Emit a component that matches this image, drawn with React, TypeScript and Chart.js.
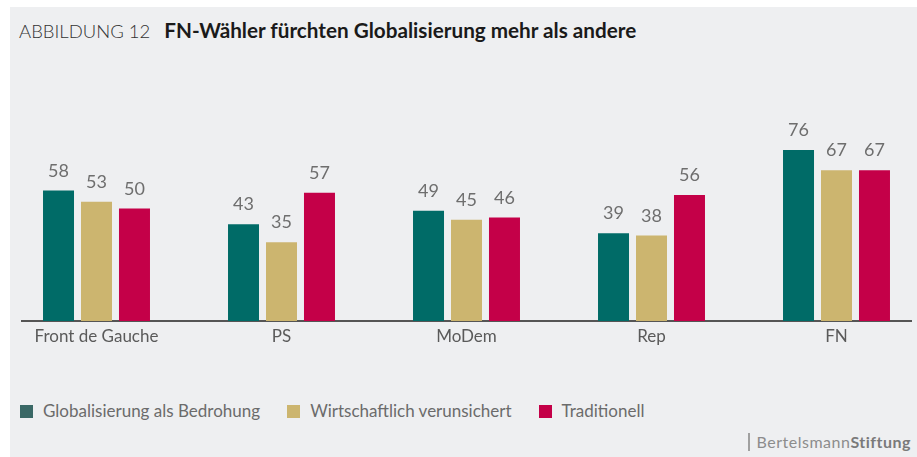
import React, { useEffect, useRef } from "react";
import { Chart, registerables } from "chart.js";

Chart.register(...registerables);

const categories = ["Front de Gauche", "PS", "MoDem", "Rep", "FN"];
const seriesNames = ["Globalisierung als Bedrohung", "Wirtschaftlich verunsichert", "Traditionell"];
const globalisierung = [58, 43, 49, 39, 76];
const wirtschaftlich = [53, 35, 45, 38, 67];
const traditionell = [50, 57, 46, 56, 67];
const seriesColors = ["#006b67", "#ccb56f", "#c40048"];
const legendColors = ["#3a6866", "#ccb56f", "#c40048"];

const valueLabels = {
  id: "valueLabels",
  afterDatasetsDraw(chart: any) {
    const ctx = chart.ctx;
    ctx.save();
    ctx.font = "18px Lato";
    ctx.fillStyle = "#6e6e6e";
    ctx.textAlign = "center";
    ctx.textBaseline = "alphabetic";
    chart.data.datasets.forEach((ds: any, di: number) => {
      const meta = chart.getDatasetMeta(di);
      meta.data.forEach((el: any, i: number) => {
        ctx.fillText(String(ds.data[i].y), el.x, el.y - 14);
      });
    });
    ctx.restore();
  },
};

export default function App() {
  const ref = useRef<HTMLCanvasElement | null>(null);
  useEffect(() => {
    if (!ref.current) return;
    const all = [globalisierung, wirtschaftlich, traditionell];
    const chart = new Chart(ref.current, {
      type: "bar",
      data: {
        datasets: all.map((vals, k) => ({
          label: seriesNames[k],
          data: vals.map((v, i) => ({ x: i, y: v })),
          backgroundColor: seriesColors[k],
          borderWidth: 0,
          categoryPercentage: 0.616,
          barPercentage: 0.816,
        })),
      },
      options: {
        animation: false,
        responsive: true,
        maintainAspectRatio: false,
        layout: { padding: { top: 29, left: 12, right: 6, bottom: 0 } },
        plugins: { legend: { display: false }, tooltip: { enabled: false } },
        scales: {
          x: {
            type: "linear",
            offset: false,
            min: -0.4027,
            max: 4.4027,
            afterFit: (scale: any) => {
              scale.height = 30;
            },
            grid: { display: false, drawTicks: false, offset: false },
            border: { display: true, color: "#555555", width: 2 },
            ticks: {
              stepSize: 1,
              includeBounds: false,
              autoSkip: false,
              maxRotation: 0,
              padding: 5,
              color: "#5a5a5a",
              font: { family: "Lato", size: 17 },
              callback: (v: any) => (Number.isInteger(v) ? categories[v] : null),
            },
          },
          y: { display: false, min: 0, max: 100 },
        },
      },
      plugins: [valueLabels],
    } as any);
    return () => chart.destroy();
  }, []);

  return (
    <div
      style={{
        position: "fixed",
        left: 10,
        top: 7,
        width: 907,
        height: 450,
        background: "#eeeff1",
        fontFamily: "Lato, sans-serif",
        overflow: "hidden",
      }}
    >
      <div style={{ position: "absolute", left: 9, top: 11, whiteSpace: "nowrap", lineHeight: "24px" }}>
        <span style={{ fontWeight: 300, fontSize: 18.5, color: "#333" }}>ABBILDUNG 12</span>
        <span style={{ fontWeight: 700, fontSize: 20.7, color: "#1a1a1a", marginLeft: 14 }}>
          FN-Wähler fürchten Globalisierung mehr als andere
        </span>
      </div>
      <div style={{ position: "absolute", left: 0, top: 60, width: 907, height: 284 }}>
        <canvas ref={ref} />
      </div>
      <div
        style={{
          position: "absolute",
          left: 10,
          top: 393,
          display: "flex",
          alignItems: "center",
          whiteSpace: "nowrap",
          fontSize: 17,
          color: "#6b6b6b",
          lineHeight: "22px",
        }}
      >
        {seriesNames.map((n, k) => (
          <div key={n} style={{ display: "flex", alignItems: "center", marginRight: 27 }}>
            <span style={{ width: 13, height: 13, background: legendColors[k], marginRight: 10, display: "inline-block" }} />
            <span>{n}</span>
          </div>
        ))}
      </div>
      <div
        style={{
          position: "absolute",
          right: 6,
          top: 424,
          display: "flex",
          alignItems: "center",
          whiteSpace: "nowrap",
          fontSize: 16,
          lineHeight: "22px",
        }}
      >
        <span style={{ width: 2, height: 18, background: "#a0a0a0", marginRight: 7, display: "inline-block" }} />
        <span style={{ color: "#8c8c8c", letterSpacing: 0.5 }}>Bertelsmann</span>
        <span style={{ color: "#7a7a7a", fontWeight: 700, letterSpacing: 0.5 }}>Stiftung</span>
      </div>
    </div>
  );
}
